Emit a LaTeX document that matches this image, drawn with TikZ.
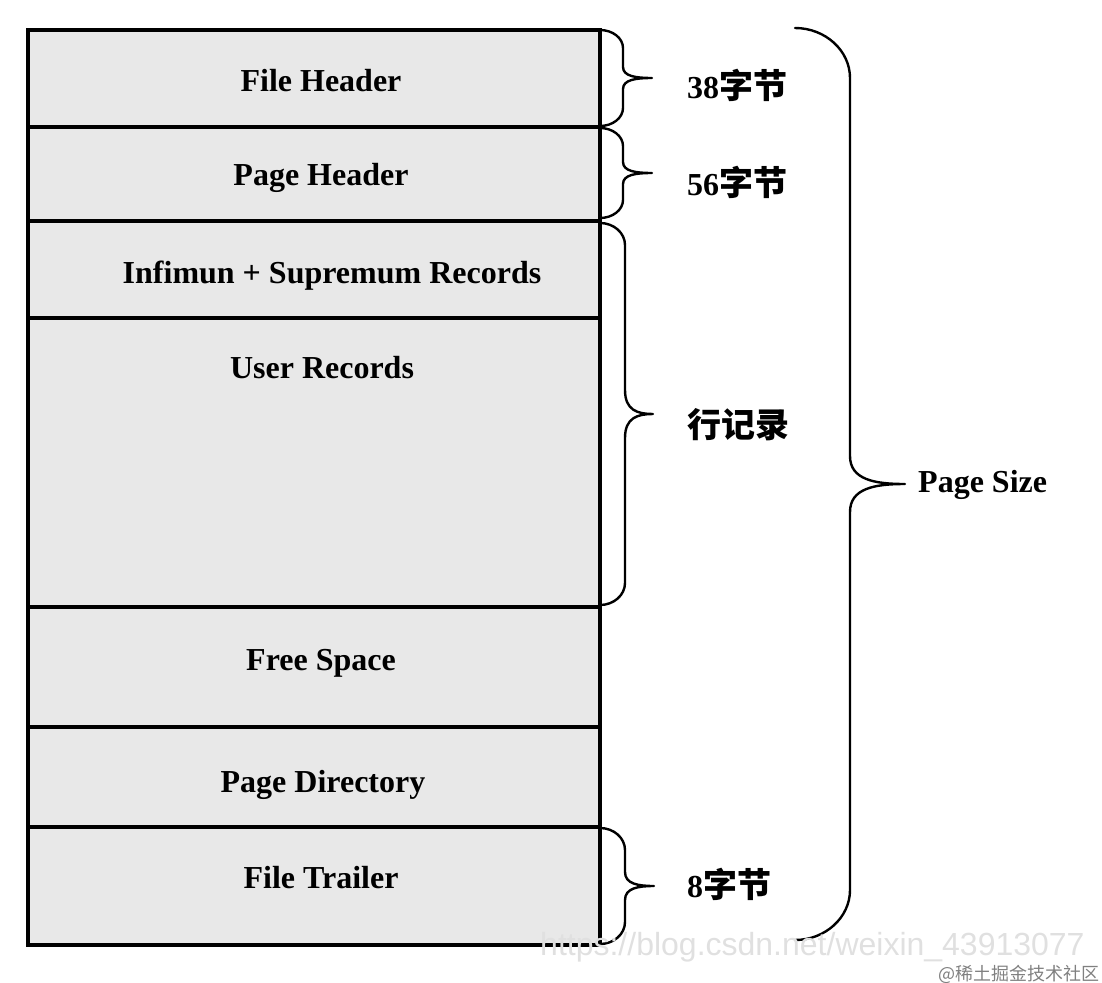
\documentclass[tikz,border=0pt]{standalone}
\usepackage{fontspec}
\setmainfont{Liberation Serif}
\setsansfont{Liberation Sans}
\newfontfamily\cjk{Noto Sans CJK SC}
% #1 x start, #2 y top, #3 y bottom, #4 x of straight part, #5 x of tip, #6 hook size, #7 curl size
\newcommand\mybrace[7]{%
  \draw[bracestyle] (#1,#2) .. controls ({#1+0.55*(#4-#1)},#2) and (#4,{#2+0.45*#6}) .. (#4,{#2+#6})
    -- (#4,{(#2+#3)/2-#7}) .. controls (#4,{(#2+#3)/2-0.15*#7}) and ({#4+0.45*(#5-#4)},{(#2+#3)/2}) .. (#5,{(#2+#3)/2})
    .. controls ({#4+0.45*(#5-#4)},{(#2+#3)/2}) and (#4,{(#2+#3)/2+0.15*#7}) .. (#4,{(#2+#3)/2+#7})
    -- (#4,{#3-#6}) .. controls (#4,{#3-0.45*#6}) and ({#1+0.55*(#4-#1)},#3) .. (#1,#3);}
\begin{document}
\begin{tikzpicture}[x=1pt,y=-1pt,
  boxfill/.style={fill=black!9},
  frame/.style={draw=black, line width=4.5pt},
  divider/.style={draw=black, line width=4.5pt},
  bracestyle/.style={draw=black, line width=2.4pt, line cap=round, line join=round},
  lbl/.style={font=\fontsize{32}{38}\selectfont\bfseries, anchor=base, inner sep=0pt},
  sidelbl/.style={lbl, anchor=base west},
  wm/.style={font=\sffamily\fontsize{32}{38}\selectfont, text=black!12, anchor=base west, inner sep=0pt},
  wmb/.style={font=\cjk\mdseries\fontsize{18}{22}\selectfont, text=black!50, anchor=base east, inner sep=0pt}]
\useasboundingbox (0,0) rectangle (1102,982);
% page body
\fill[boxfill] (28,30) rectangle (600,945);
\foreach \yy in {127,221,318,607,727,827}
  \draw[divider] (28,\yy) -- (600,\yy);
\draw[frame] (28,30) rectangle (600,945);
% section names
\node[lbl] (fh)  at (321,91)  {File Header};
\node[lbl] (ph)  at (321,185) {Page Header};
\node[lbl] (isr) at (332,283) {Infimun + Supremum Records};
\node[lbl] (ur)  at (322,378) {User Records};
\node[lbl] (fs)  at (321,670) {Free Space};
\node[lbl] (pd)  at (323,792) {Page Directory};
\node[lbl] (ft)  at (321,888) {File Trailer};
% braces
\mybrace{600}{30}{126}{623}{652}{18}{11}
\mybrace{600}{128}{218}{623}{652}{18}{11}
\mybrace{600}{223}{605}{625}{653}{22}{24}
\mybrace{600}{828}{944}{625}{654}{22}{14}
\mybrace{795}{28}{940}{850}{905}{50}{28}
% brace labels
\node[sidelbl] (b38)  at (687,98)  {38{\cjk\fontsize{34}{38}\selectfont 字节}};
\node[sidelbl] (b56)  at (687,195) {56{\cjk\fontsize{34}{38}\selectfont 字节}};
\node[sidelbl] (rows) at (687,437) {{\cjk\fontsize{34}{38}\selectfont 行记录}};
\node[sidelbl] (b8)   at (687,897) {8{\cjk\fontsize{34}{38}\selectfont 字节}};
\node[sidelbl] (ps)   at (918,492) {Page Size};
% watermarks
\node[wm]  (wm1) at (540,955)  {https://blog.csdn.net/weixin\_43913077};
\node[wmb] (wm2) at (1100,980) {@稀土掘金技术社区};
\end{tikzpicture}
\end{document}
